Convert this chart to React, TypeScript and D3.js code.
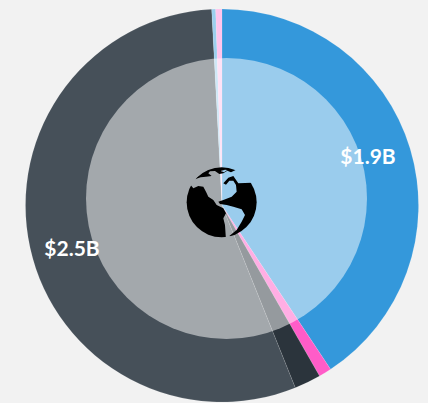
import React from "react";
import * as d3 from "d3";

const sliceNames = ["Blue", "Pink", "Dark", "Slate", "Sky", "Rose"];
const sliceValues = [1.9, 0.049, 0.102, 2.58, 0.015, 0.024];
const sliceColors = ["#3498db", "#ff5cc8", "#2b343c", "#465059", "#9ccfee", "#ffc4ec"];
const labelTexts = ["$1.9B", "$2.5B"];

const capLand: [number, number][] = [[75,88],[90,72],[110,60],[135,52],[165,50],[185,52],[197,60],[183,67],[172,62],[160,70],[148,72],[135,63],[120,64],[115,70],[125,78],[108,80],[92,82]];
const capHole: [number, number][] = [[152,63],[165,59],[172,60],[162,67]];
const westLand: [number, number][] = [[62,105],[70,115],[85,108],[100,110],[108,125],[115,140],[130,150],[140,165],[160,175],[168,190],[160,205],[165,225],[168,270],[100,290],[20,200],[30,90]];
const eastLand: [number, number][] = [[145,155],[160,150],[185,140],[200,125],[198,105],[190,92],[178,92],[168,104],[160,100],[175,83],[190,78],[205,100],[245,98],[290,150],[240,280],[178,258],[200,240],[215,215],[225,195],[215,178],[190,170],[170,165],[150,162]];

const landLine = d3.line().curve(d3.curveLinearClosed);

export default function App() {
  const cx = 222, cy = 205.5, r = 196.5;
  const pie = d3.pie<number>().sort(null).startAngle(0).endAngle(2 * Math.PI);
  const arc = d3.arc<d3.PieArcDatum<number>>().innerRadius(0).outerRadius(r);
  const arcs = pie(sliceValues);
  return (
    <svg width={428} height={403} style={{ position: "fixed", left: 0, top: 0, background: "#f2f2f2" }}>
      <defs>
        <clipPath id="globe"><circle cx={102.3 * 0 + 155} cy={157} r={105} /></clipPath>
      </defs>
      <g transform={`translate(${cx},${cy})`}>
        {arcs.map((a, i) => (
          <path key={sliceNames[i]} d={arc(a) ?? ""} fill={sliceColors[i]} stroke="#ffffff" strokeOpacity={0.18} strokeWidth={0.6} />
        ))}
      </g>
      <circle cx={226.5} cy={198.5} r={140.5} fill="#ffffff" fillOpacity={0.5} />
      <g transform="translate(170,150) scale(0.3333)">
        <g clipPath="url(#globe)">
          <path d={(landLine(capLand) ?? "") + (landLine(capHole) ?? "")} fill="#000" fillRule="evenodd" />
          <path d={landLine(westLand) ?? ""} fill="#000" />
          <path d={landLine(eastLand) ?? ""} fill="#000" />
        </g>
      </g>
      <text x={368} y={164} textAnchor="middle" fontFamily="Lato" fontWeight={700} fontSize={21} fill="#fff">{labelTexts[0]}</text>
      <text x={72} y={256} textAnchor="middle" fontFamily="Lato" fontWeight={700} fontSize={21} fill="#fff">{labelTexts[1]}</text>
    </svg>
  );
}
